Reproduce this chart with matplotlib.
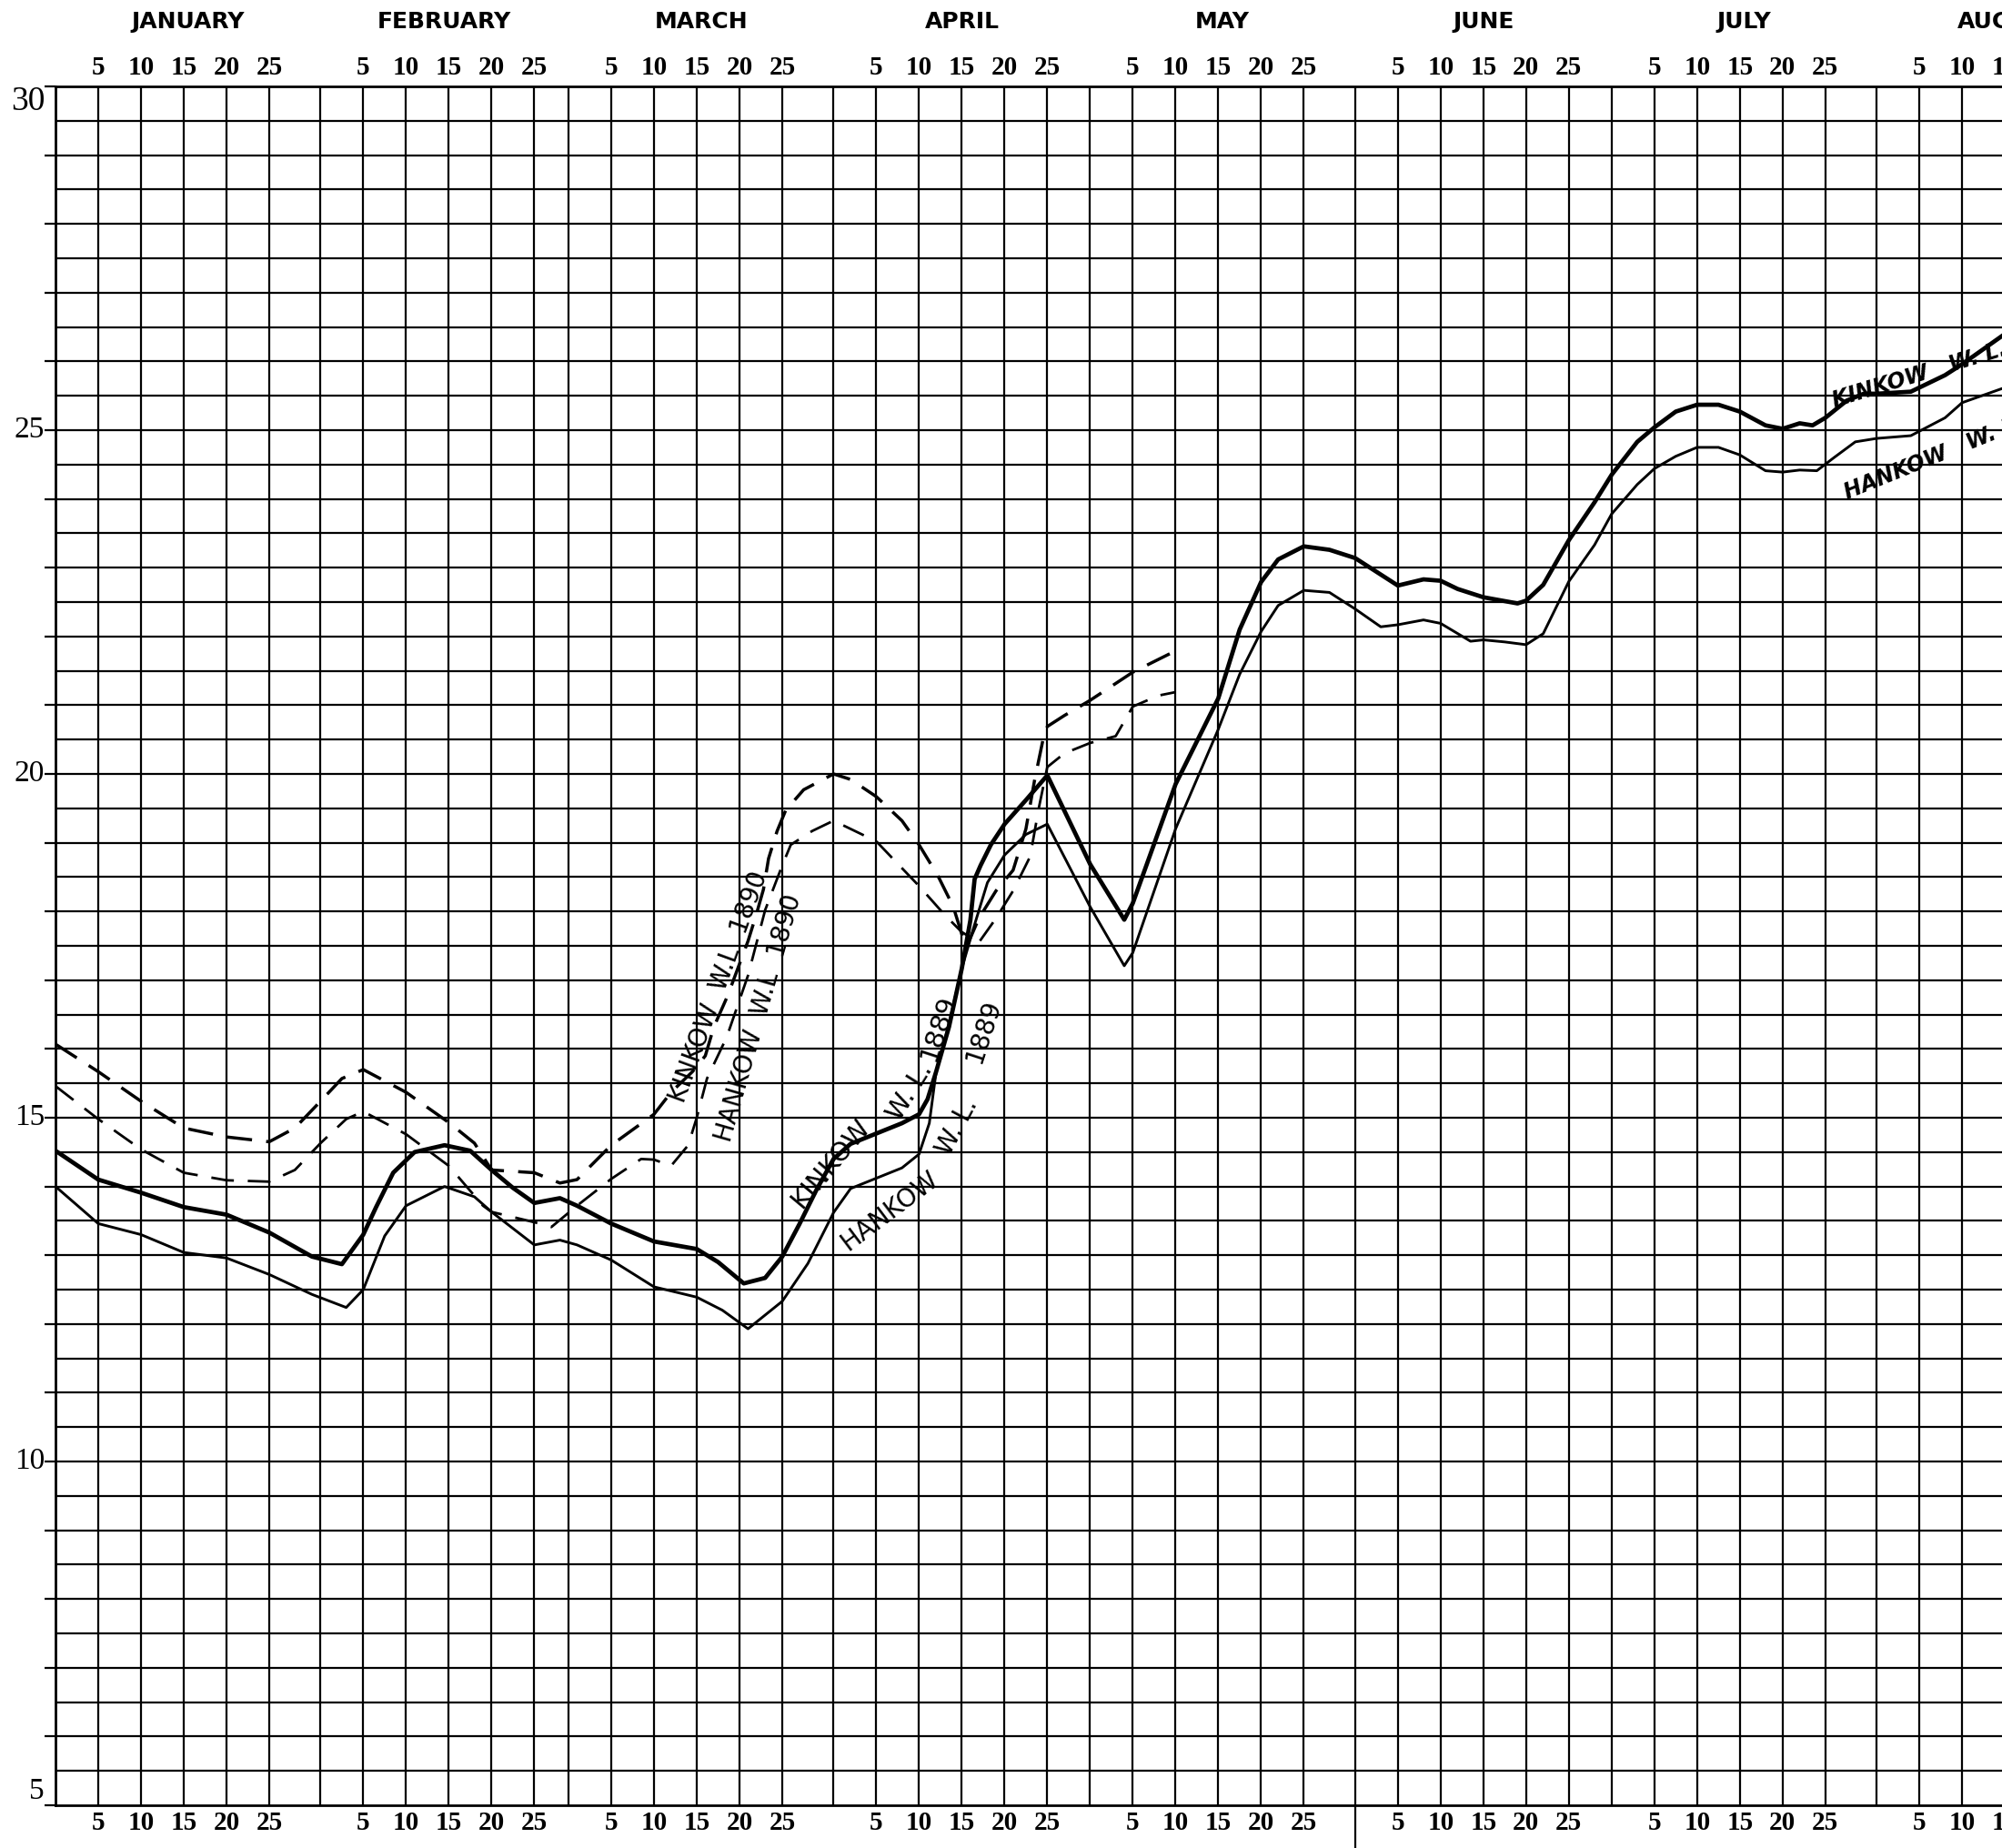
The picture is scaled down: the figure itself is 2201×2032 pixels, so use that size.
import matplotlib
matplotlib.use("Agg")
import matplotlib.pyplot as plt
import matplotlib.transforms as mtransforms
import numpy as np

# Month layout of the printed grid (February ruled with 29 days)
month_names = ["JANUARY", "FEBRUARY", "MARCH", "APRIL", "MAY", "JUNE", "JULY", "AUGUST"]
month_lengths = [31, 29, 31, 30, 31, 30, 31, 31]
day_ticks = [5, 10, 15, 20, 25]
level_labels = [5, 10, 15, 20, 25, 30]

# Water levels, dates as "month/day"
kinkow_1889_dates = [
    "1/0", "1/5", "1/10", "1/15", "1/20", "1/25", "1/30", "2/2.5", "2/5", "2/6.5",
    "2/8.5", "2/11", "2/14.5", "2/17.5", "2/20", "2/22.5", "2/25", "2/28", "3/1", "3/5",
    "3/10", "3/15", "3/17.5", "3/20.5", "3/23", "3/25", "3/27", "3/29", "3/31", "4/2",
    "4/5", "4/8", "4/10", "4/11", "4/12", "4/13.5", "4/15", "4/16", "4/16.5", "4/17.2",
    "4/18.4", "4/20", "4/22.5", "4/25", "4/30", "5/4", "5/5", "5/10", "5/15", "5/17.5",
    "5/20", "5/22", "5/25", "5/28", "5/31", "6/5", "6/8", "6/10", "6/12", "6/15",
    "6/19", "6/20", "6/22", "6/25", "6/28", "6/30", "7/3", "7/5", "7/7.5", "7/10",
    "7/12.5", "7/15", "7/18", "7/20", "7/22", "7/23.5", "7/25", "7/27.5", "7/29.5", "7/31",
    "8/4", "8/8", "8/10", "8/15",
]
kinkow_1889_levels = [
    14.52, 14.10, 13.91, 13.70, 13.59, 13.33, 12.98, 12.87, 13.30, 13.70,
    14.20, 14.50, 14.60, 14.52, 14.24, 13.98, 13.76, 13.83, 13.72, 13.46,
    13.20, 13.09, 12.90, 12.59, 12.67, 12.98, 13.45, 13.95, 14.40, 14.62,
    14.77, 14.92, 15.05, 15.27, 15.67, 16.32, 17.17, 17.87, 18.47, 18.67,
    18.97, 19.27, 19.62, 19.98, 18.69, 17.88, 18.12, 19.85, 21.10, 22.10,
    22.79, 23.12, 23.31, 23.26, 23.14, 22.74, 22.83, 22.81, 22.69, 22.57,
    22.48, 22.52, 22.75, 23.40, 23.95, 24.35, 24.83, 25.04, 25.27, 25.37,
    25.37, 25.27, 25.07, 25.02, 25.10, 25.07, 25.18, 25.43, 25.53, 25.53,
    25.56, 25.80, 25.96, 26.40,
]

hankow_1889_dates = [
    "1/0", "1/5", "1/10", "1/15", "1/20", "1/25", "1/30", "2/3", "2/5", "2/7.5",
    "2/10", "2/14.5", "2/18", "2/20", "2/25", "2/28", "3/1", "3/5", "3/10", "3/15",
    "3/18", "3/21", "3/25", "3/28", "3/31", "4/2", "4/5", "4/8", "4/10", "4/11.2",
    "4/12", "4/13.5", "4/15", "4/16.4", "4/18", "4/20", "4/22.5", "4/25", "4/30", "5/4",
    "5/5", "5/10", "5/15", "5/17.5", "5/20", "5/22", "5/25", "5/28", "5/31", "6/3",
    "6/5", "6/8", "6/10", "6/13.5", "6/15", "6/17.5", "6/20", "6/22", "6/25", "6/28",
    "6/30", "7/3", "7/5", "7/7.5", "7/10", "7/12.5", "7/15", "7/18", "7/20", "7/22",
    "7/24", "7/26", "7/28.5", "7/31", "8/4", "8/8", "8/10", "8/15",
]
hankow_1889_levels = [
    14.00, 13.46, 13.30, 13.04, 12.96, 12.72, 12.43, 12.24, 12.50, 13.28,
    13.72, 14.00, 13.85, 13.63, 13.15, 13.22, 13.15, 12.93, 12.54, 12.39,
    12.20, 11.93, 12.33, 12.88, 13.62, 13.97, 14.12, 14.27, 14.47, 14.92,
    15.67, 16.37, 17.17, 17.77, 18.42, 18.82, 19.12, 19.27, 18.07, 17.21,
    17.40, 19.20, 20.65, 21.45, 22.07, 22.45, 22.67, 22.64, 22.40, 22.14,
    22.17, 22.24, 22.19, 21.93, 21.95, 21.92, 21.88, 22.04, 22.80, 23.33,
    23.78, 24.21, 24.44, 24.62, 24.75, 24.75, 24.64, 24.41, 24.39, 24.42,
    24.41, 24.60, 24.83, 24.88, 24.92, 25.18, 25.40, 25.62,
]

kinkow_1890_dates = [
    "1/0", "1/5", "1/10", "1/15", "1/20", "1/25", "1/28", "1/31", "2/2.5", "2/5",
    "2/10", "2/15", "2/18", "2/20", "2/25", "2/28", "3/1", "3/5", "3/10", "3/12",
    "3/14.5", "3/16", "3/17", "3/18.6", "3/19.8", "3/21", "3/22", "3/22.8", "3/23.4", "3/24.4",
    "3/25.4", "3/27.5", "3/31", "4/2", "4/5", "4/8", "4/10", "4/12.2", "4/14", "4/15.5",
    "4/17", "4/19", "4/21", "4/22.5", "4/23.5", "4/24.5", "4/25", "4/27", "4/30", "5/5",
    "5/10",
]
kinkow_1890_levels = [
    16.07, 15.67, 15.24, 14.85, 14.72, 14.65, 14.85, 15.24, 15.57, 15.70,
    15.37, 14.93, 14.63, 14.24, 14.20, 14.05, 14.10, 14.60, 15.05, 15.37,
    15.67, 15.90, 16.32, 16.77, 17.17, 17.57, 17.97, 18.32, 18.77, 19.17,
    19.47, 19.77, 20.00, 19.92, 19.67, 19.32, 18.97, 18.52, 18.07, 17.47,
    17.90, 18.30, 18.60, 19.20, 19.90, 20.50, 20.69, 20.85, 21.07, 21.48,
    21.79,
]

hankow_1890_dates = [
    "1/0", "1/5", "1/10", "1/15", "1/20", "1/25", "1/28", "1/31", "2/3", "2/5",
    "2/10", "2/15", "2/19", "2/20", "2/25", "2/27", "3/1", "3/5", "3/8.5", "3/10",
    "3/12", "3/14", "3/15", "3/16.2", "3/18.5", "3/21", "3/23", "3/25", "3/26", "3/28.5",
    "3/31", "4/5", "4/10", "4/13", "4/15", "4/17", "4/19", "4/21", "4/23", "4/24",
    "4/25", "4/27", "4/30", "5/3", "5/5", "5/8", "5/10",
]
hankow_1890_levels = [
    15.46, 14.98, 14.54, 14.20, 14.09, 14.07, 14.24, 14.63, 14.98, 15.09,
    14.76, 14.30, 13.72, 13.63, 13.48, 13.41, 13.72, 14.11, 14.40, 14.39,
    14.30, 14.60, 15.00, 15.57, 16.17, 17.07, 18.02, 18.67, 18.97, 19.17,
    19.32, 19.02, 18.37, 17.95, 17.70, 17.55, 17.90, 18.30, 18.80, 19.50,
    20.10, 20.30, 20.45, 20.55, 20.98, 21.14, 21.19,
]

month_starts = np.concatenate([[0], np.cumsum(month_lengths)[:-1]])


def to_x(dates):
    # "month/day" -> position along the ruled day axis
    out = []
    for s in dates:
        m, d = s.split("/")
        out.append(month_starts[int(m) - 1] + float(d))
    return np.array(out)


W, H = 2201, 2032
px_per_day = 9.4
fig = plt.figure(figsize=(W / 100, H / 100), dpi=100)
ax = fig.add_axes([61 / W, 47 / H, (W - 61) / W, 1890 / H])
ax.set_xlim(0, (W - 61) / px_per_day)
ax.set_ylim(5, 30)

serif = "Liberation Serif"

# Ruled grid
grid_kw = dict(color="black", lw=1.6, zorder=1)
for start, length in zip(month_starts, month_lengths):
    for d in day_ticks + [length]:
        ax.axvline(start + d, **grid_kw)
for y in np.arange(5.5, 30, 0.5):
    ax.axhline(y, **grid_kw)

for side in ["left", "top", "bottom"]:
    ax.spines[side].set_linewidth(2.0)
ax.spines["right"].set_visible(False)
ax.set_xticks([])
ax.set_yticks(range(5, 31))
ax.tick_params(axis="y", length=9, width=1.6, direction="out", labelleft=False)

# Month boundary continued below the chart
bt = mtransforms.blended_transform_factory(ax.transData, ax.transAxes)
ax.plot([month_starts[5]] * 2, [0, -47 / 1890], color="black", lw=1.6,
        transform=bt, clip_on=False)

# Month names and day numbers
ft = mtransforms.blended_transform_factory(ax.transData, fig.transFigure)
for name, start, length in zip(month_names, month_starts, month_lengths):
    ax.text(start + length / 2, 1 - 24 / H, name, transform=ft, ha="center",
            va="center", fontsize=18, fontweight="bold", family="DejaVu Sans",
            clip_on=False)
    for d in day_ticks:
        for ypos in (1 - 74 / H, 1 - 2005 / H):
            ax.text(start + d, ypos, str(d), transform=ft, ha="center",
                    va="center", fontsize=21, fontweight="bold", family=serif,
                    clip_on=False)

# Level labels
lt = mtransforms.offset_copy(ax.transData, fig=fig, x=-12, y=0, units="dots")
for v in level_labels:
    va = "top" if v == 30 else ("bottom" if v == 5 else "center")
    ax.text(0, v, str(v), transform=lt, ha="right", va=va,
            fontsize=27 if v == 30 else 24, family=serif, clip_on=False)

# Curves
ax.plot(to_x(kinkow_1889_dates), kinkow_1889_levels, color="black", lw=3.4,
        solid_joinstyle="round", zorder=4)
ax.plot(to_x(hankow_1889_dates), hankow_1889_levels, color="black", lw=2.1,
        solid_joinstyle="round", zorder=4)
ax.plot(to_x(kinkow_1890_dates), kinkow_1890_levels, color="black", lw=2.5,
        dashes=(8, 4.5), zorder=4)
ax.plot(to_x(hankow_1890_dates), hankow_1890_levels, color="black", lw=2.0,
        dashes=(9, 5.5), zorder=4)

# Hand lettering along the curves
lab = dict(color="black", family="DejaVu Sans", ha="center", va="center",
           rotation_mode="anchor", zorder=5)
ax.text(77.6, 16.9, "KINKOW  W.L  1890", fontsize=20, rotation=70, **lab)
ax.text(82.2, 16.45, "HANKOW  W.L  1890", fontsize=20, rotation=74, **lab)
ax.text(90.7, 14.33, "KINKOW", fontsize=21, rotation=50, **lab)
ax.text(100.0, 15.38, "W. L.", fontsize=21, rotation=58, **lab)
ax.text(103.3, 16.31, "1889", fontsize=21, rotation=72, **lab)
ax.text(97.6, 13.65, "HANKOW", fontsize=20, rotation=37, **lab)
ax.text(105.5, 14.87, "W. L.", fontsize=20, rotation=62, **lab)
ax.text(108.5, 16.26, "1889", fontsize=20, rotation=72, **lab)

right = dict(color="black", family="DejaVu Sans", fontweight="bold",
             style="italic", ha="left", va="baseline", rotation_mode="anchor",
             zorder=5, clip_on=False)
ax.text(208.1, 25.33, "KINKOW   W. L. 1889", fontsize=17, rotation=17, **right)
ax.text(209.6, 24.0, "HANKOW   W. L. 1889", fontsize=17, rotation=22, **right)

fig.savefig("out.png", dpi=100, facecolor="white")
